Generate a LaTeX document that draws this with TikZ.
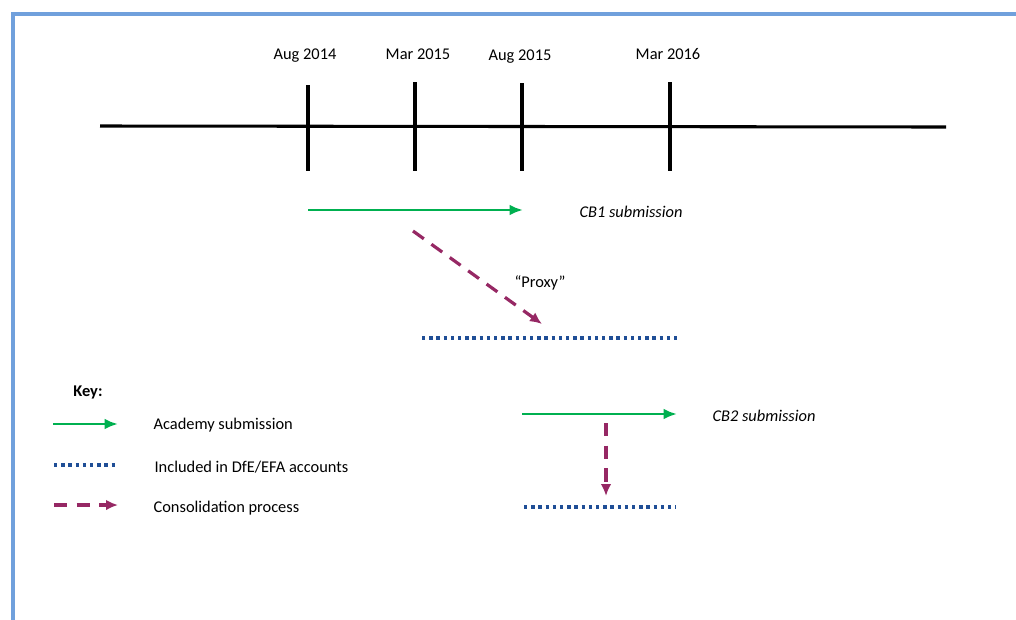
\documentclass[tikz,border=0pt]{standalone}
\usepackage{fontspec}
\setmainfont{Carlito}
\usetikzlibrary{arrows.meta,positioning}

\definecolor{subgreen}{RGB}{0,176,80}
\definecolor{accblue}{RGB}{31,78,150}
\definecolor{consplum}{RGB}{150,40,100}
\definecolor{frameblue}{RGB}{112,160,220}

\begin{document}
\begin{tikzpicture}[
  x=0.75pt, y=-0.75pt,
  font=\fontsize{12.3}{14}\selectfont,
  axis/.style={line width=2.3pt,black},
  tick/.style={line width=2.3pt,black},
  submit/.style={-{Latex[length=10pt,width=8pt]},line width=2pt,draw=subgreen},
  accounts/.style={line width=2.5pt,draw=accblue,dash pattern=on 2.5pt off 2.9pt},
  consol/.style={-{Latex[length=9pt,width=8pt]},line width=2.4pt,draw=consplum,dash pattern=on 10pt off 7pt},
  lbl/.style={inner sep=1pt},
]
  \useasboundingbox (0,0) rectangle (1016,619);
  \clip (0,0) rectangle (1016,619);
  \draw[frameblue,line width=3pt] (13,14) rectangle (1040,650);

  % timeline with the four dates
  \coordinate (tlstart) at (100,126);
  \coordinate (tlend) at (946,127);
  \draw[axis] (tlstart) -- (tlend);

  \coordinate (aug14top) at (308,85);  \coordinate (aug14bot) at (308,171);
  \coordinate (mar15top) at (415,82);  \coordinate (mar15bot) at (415,171);
  \coordinate (aug15top) at (522,83);  \coordinate (aug15bot) at (522,171);
  \coordinate (mar16top) at (670,82);  \coordinate (mar16bot) at (670,171);
  \draw[tick] (aug14top) -- (aug14bot);
  \draw[tick] (mar15top) -- (mar15bot);
  \draw[tick] (aug15top) -- (aug15bot);
  \draw[tick] (mar16top) -- (mar16bot);

  \node[lbl] (lblaug14) at (305,56) {Aug 2014};
  \node[lbl] (lblmar15) at (418,54) {Mar 2015};
  \node[lbl] (lblaug15) at (520,57) {Aug 2015};
  \node[lbl] (lblmar16) at (668,54) {Mar 2016};

  % CB1
  \coordinate (cb1start) at (308,210);
  \coordinate (cb1end) at (523,210);
  \draw[submit] (cb1start) -- (cb1end);
  \node[lbl,anchor=west] (cb1) at (578,212) {\itshape CB1 submission};

  \coordinate (proxystart) at (413,231);
  \coordinate (proxyend) at (542,324);
  \draw[consol] (proxystart) -- (proxyend);
  \node[lbl] (proxy) at (540,283) {“Proxy”};

  \coordinate (acc1start) at (422,338);
  \coordinate (acc1end) at (677,338);
  \draw[accounts] (acc1start) -- (acc1end);

  % CB2
  \coordinate (cb2start) at (522,414);
  \coordinate (cb2end) at (677,414);
  \draw[submit] (cb2start) -- (cb2end);
  \node[lbl,anchor=west] (cb2) at (711,416) {\itshape CB2 submission};

  \coordinate (cons2start) at (606,423);
  \coordinate (cons2end) at (606,496);
  \draw[consol] (cons2start) -- (cons2end);

  \coordinate (acc2start) at (524,507);
  \coordinate (acc2end) at (676,507);
  \draw[accounts] (acc2start) -- (acc2end);

  % key
  \node[lbl,font=\fontsize{12.3}{14}\selectfont\bfseries] (key) at (88,392) {Key:};

  \coordinate (keysubstart) at (53,424);
  \coordinate (keysubend) at (118,424);
  \draw[submit] (keysubstart) -- (keysubend);
  \node[lbl,anchor=west] (keysub) at (152,425) {Academy submission};

  \coordinate (keyaccstart) at (54,465);
  \coordinate (keyaccend) at (118,465);
  \draw[accounts] (keyaccstart) -- (keyaccend);
  \node[lbl,anchor=west] (keyacc) at (153,467) {Included in DfE/EFA accounts};

  \coordinate (keyconstart) at (54,505);
  \coordinate (keyconend) at (118,505);
  \draw[consol] (keyconstart) -- (keyconend);
  \node[lbl,anchor=west] (keycon) at (152,508) {Consolidation process};
\end{tikzpicture}
\end{document}
